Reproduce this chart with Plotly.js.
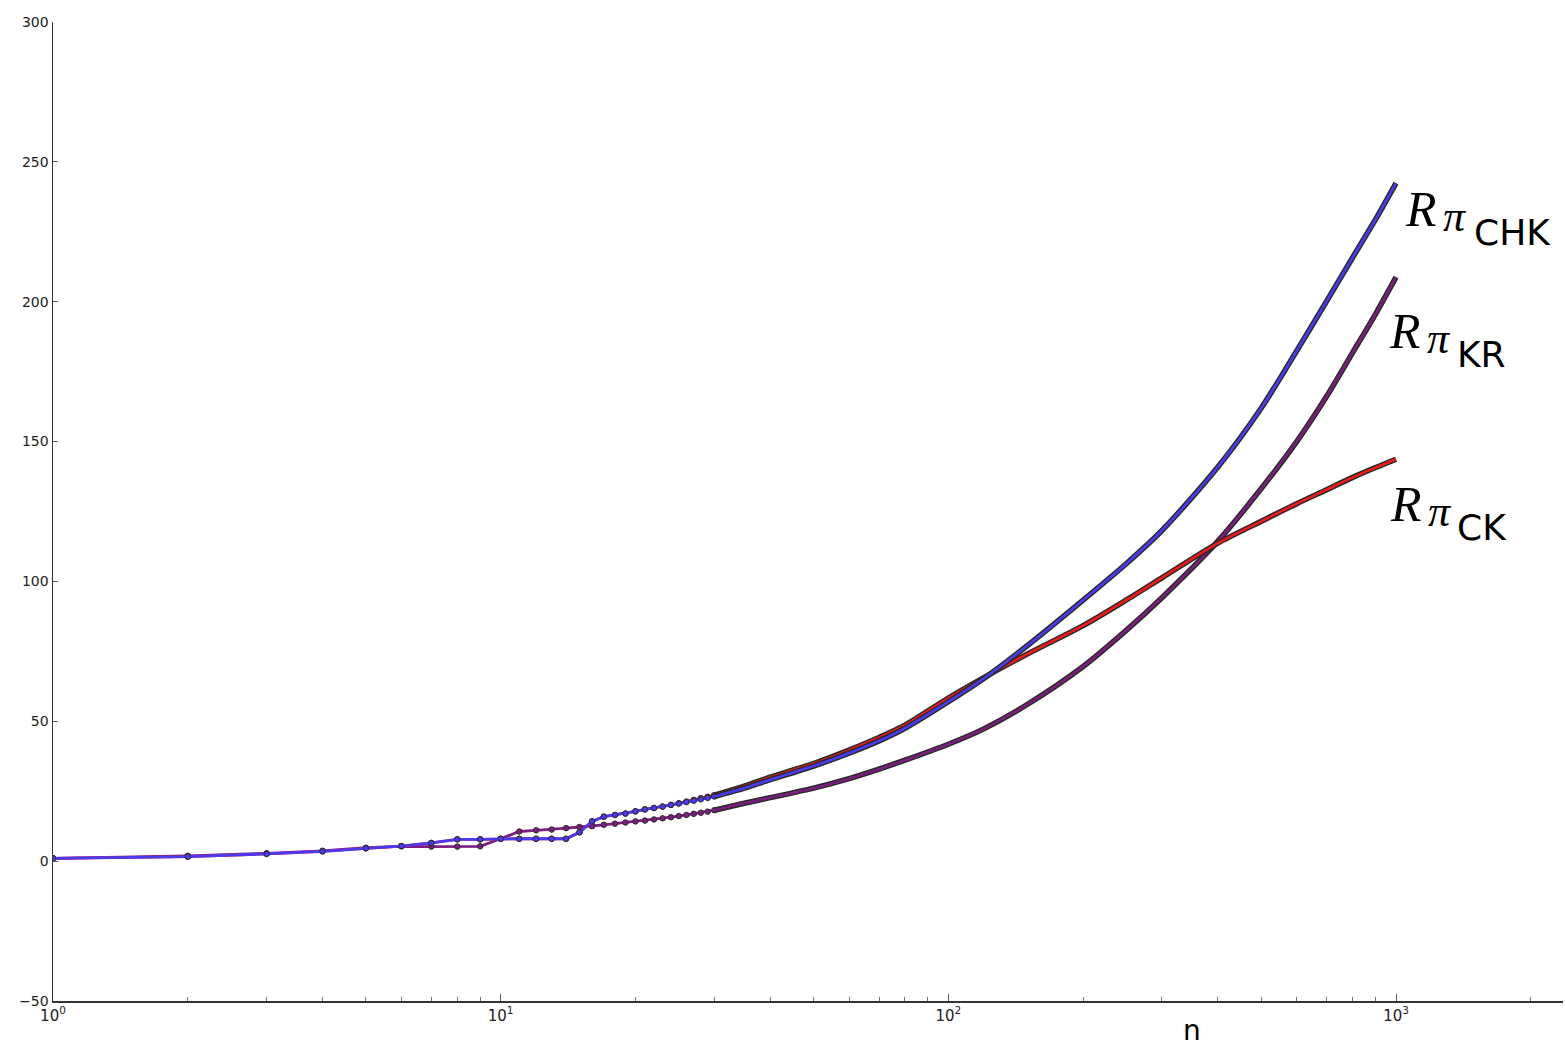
<!DOCTYPE html>
<html>
<head>
<meta charset="UTF-8">
<title>R_pi vs n</title>
<script src="https://cdn.plot.ly/plotly-3.0.1.min.js"></script>
<style>
  body { margin: 0; background: #fff; }
  #chart { width: 1565px; height: 1059px; }
</style>
</head>
<body>
<div id="chart"></div>
<script>
// n = 1..30, one point per n (drawn with dots)
const nLow = [1,2,3,4,5,6,7,8,9,10,11,12,13,14,15,16,17,18,19,20,21,22,23,24,25,26,27,28,29,30];
const chkLow = [1.0,1.6,2.6,3.5,4.6,5.4,6.5,7.8,7.8,8.0,8.0,8.0,8.0,8.0,10.3,14.2,15.9,16.5,17.0,17.8,18.5,19.0,19.5,20.1,20.6,21.1,21.6,22.1,22.6,23.1];
const krLow  = [1.0,1.9,2.8,3.7,4.8,5.3,5.2,5.2,5.3,8.0,10.6,11.0,11.3,11.8,12.2,12.5,13.0,13.4,13.8,14.2,14.5,14.9,15.3,15.7,16.1,16.5,16.9,17.3,17.7,18.2];
const ckLow  = [1.0,1.6,2.6,3.5,4.6,5.4,6.5,7.8,7.8,8.0,8.0,8.0,8.0,8.0,10.3,14.2,15.9,16.5,17.0,17.8,18.5,19.0,19.5,20.1,20.7,21.3,21.9,22.5,23.0,23.6];

// n >= 30, points too dense to separate, drawn as outlined lines
const nHigh = [30,35,40,50,60,70,80,100,120,150,200,250,300,400,500,600,700,800,900,1000];
const chkHigh = [23.1,26.1,29.1,34.0,38.6,43.0,47.5,57.0,65.3,77.0,93.3,106.4,118.2,140.9,162.0,182.4,200.2,215.8,229.4,242.4];
const krHigh  = [18.2,20.7,22.7,26.1,29.5,32.9,36.1,41.8,47.3,56.0,69.6,82.6,94.2,114.4,133.2,150.0,166.2,181.8,195.6,208.8];
const ckHigh  = [23.6,26.8,30.0,34.9,39.7,44.2,48.6,58.3,65.6,74.0,84.2,93.4,101.3,113.7,121.5,127.8,132.8,137.2,140.7,143.7];

const xTickVals = [1, 10, 100, 1000];
const xTickText = ['10<sup>0</sup>', '10<sup>1</sup>', '10<sup>2</sup>', '10<sup>3</sup>'];
const xMinorVals = [2,3,4,5,6,7,8,9,20,30,40,50,60,70,80,90,200,300,400,500,600,700,800,900,2000];

const BLUE = '#4a3af2';
const PURPLE = '#7c1d80';
const RED = '#f01a1a';
const EDGE = '#2a2a2a';

function series(nL, vL, nH, vH, color) {
  return [
    { x: nL, y: vL, type: 'scatter', mode: 'lines+markers',
      line: { color: color, width: 2.8 },
      marker: { color: color, size: 5.5, line: { color: EDGE, width: 1 } } },
    { x: nH, y: vH, type: 'scatter', mode: 'lines',
      line: { color: EDGE, width: 5.5, shape: 'spline', smoothing: 0.8 } },
    { x: nH, y: vH, type: 'scatter', mode: 'lines',
      line: { color: color, width: 2.6, shape: 'spline', smoothing: 0.8 } }
  ];
}

const data = [].concat(
  series(nLow, krLow, nHigh, krHigh, PURPLE),
  series(nLow, ckLow, nHigh, ckHigh, RED),
  series(nLow, chkLow, nHigh, chkHigh, BLUE)
);

// plot area in pixels: left 53, right 1563, top 22, bottom 1001
function px(x) { return (x - 53) / 1510; }
function py(y) { return (1001 - y) / 979; }

function label(left, rY, piX, piY, subX, subY, sub) {
  return [
    { text: '<i>R</i>', x: px(left), y: py(rY),
      font: { family: 'Liberation Serif', size: 50, color: '#000' } },
    { text: '<i>π</i>', x: px(piX), y: py(piY),
      font: { family: 'Liberation Serif', size: 44, color: '#000' } },
    { text: sub, x: px(subX), y: py(subY),
      font: { family: 'DejaVu Sans', size: 36, color: '#000' } }
  ];
}

const annotations = [].concat(
  label(1403, 209, 1441, 216, 1472, 232, 'CHK'),
  label(1387, 331, 1425, 338, 1455, 354, 'KR'),
  label(1388, 504, 1426, 511, 1455, 527, 'CK'),
  [{ text: 'n', x: px(1192), y: py(1030), xanchor: 'center',
     font: { family: 'DejaVu Sans', size: 28, color: '#000' } }]
).map(a => Object.assign({ xref: 'paper', yref: 'paper', showarrow: false,
  xanchor: 'left', yanchor: 'middle' }, a));

const layout = {
  width: 1565, height: 1059,
  margin: { l: 53, r: 2, t: 22, b: 58 },
  paper_bgcolor: '#fff', plot_bgcolor: '#fff',
  showlegend: false,
  hovermode: false,
  font: { family: 'DejaVu Sans', size: 14, color: '#222' },
  xaxis: {
    type: 'log', range: [0, 3.373],
    showgrid: false, zeroline: false,
    showline: true, linecolor: '#333', linewidth: 1.5,
    ticks: 'inside', ticklen: 7, tickcolor: '#555', tickwidth: 1,
    tickmode: 'array', tickvals: xTickVals, ticktext: xTickText,
    tickfont: { size: 15, color: '#222' },
    minor: { tickmode: 'array', tickvals: xMinorVals, ticks: 'inside',
             ticklen: 4, tickcolor: '#777', tickwidth: 1 }
  },
  yaxis: {
    range: [-50, 300], dtick: 50,
    showgrid: false, zeroline: false,
    showline: true, linecolor: '#333', linewidth: 1.5,
    ticks: 'inside', ticklen: 5, tickcolor: '#555', tickwidth: 1,
    tickfont: { size: 14, color: '#222' }
  },
  annotations: annotations
};

Plotly.newPlot('chart', data, layout, { displayModeBar: false, staticPlot: true });
</script>
</body>
</html>
